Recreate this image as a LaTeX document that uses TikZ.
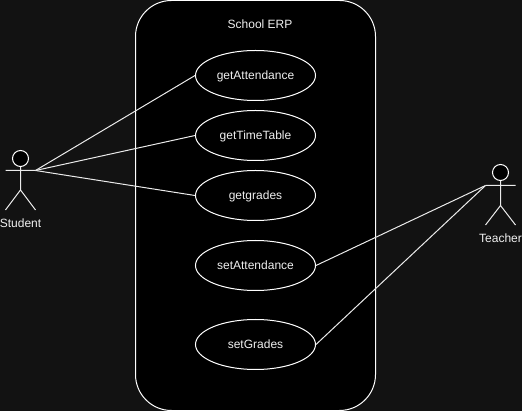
\documentclass[tikz,border=0pt]{standalone}
\usepackage{fontspec}
\setmainfont{Liberation Sans}
\usetikzlibrary{shapes.geometric}
\definecolor{bgdark}{HTML}{121212}
\definecolor{lbl}{HTML}{F0F0F0}
\tikzset{
  usecase/.style={ellipse,draw=white,fill=black,line width=1pt,minimum width=120pt,minimum height=50pt,inner sep=0pt,text=lbl,text height=10.4pt,text depth=2.4pt,font=\fontsize{12}{14}\selectfont},
  txt/.style={text=lbl,inner sep=0pt,text height=10.4pt,text depth=2.4pt,font=\fontsize{12}{14}\selectfont},
  lin/.style={draw=white!92!black,line width=1pt},
  head/.style={circle,draw=white,fill=black,line width=1pt,minimum size=16pt,inner sep=0pt}
}
\begin{document}
\begin{tikzpicture}[x=1pt,y=-1pt]
\useasboundingbox[fill=bgdark] (0,0) rectangle (522,411);
\draw[white,fill=black,line width=1pt,rounded corners=36pt] (135.5,0.5) rectangle (375.5,410.5);
\node[txt] (title) at (260,24.5) {School ERP};
\node[usecase] (a) at (255.5,75.5) {getAttendance};
\node[usecase] (b) at (255.5,135.5) {getTimeTable};
\node[usecase] (c) at (255.5,195.5) {getgrades};
\node[usecase] (d) at (255.5,265.5) {setAttendance};
\node[usecase] (e) at (255.5,344.5) {setGrades};
% Student
\node[head] (sh) at (20.5,158.5) {};
\coordinate (sb) at (20.5,190);
\coordinate (sl) at (5.5,170.5);
\coordinate (sr) at (35.5,170.5);
\coordinate (sfl) at (5.5,210);
\coordinate (sfr) at (35.5,210);
\draw[lin] (sh.south) -- (sb) (sl) -- (sr) (sfl) -- (sb) -- (sfr);
\node[txt] (sn) at (20.5,224) {Student};
% Teacher
\node[head] (th) at (500.5,172.5) {};
\coordinate (tb) at (500.5,205.5);
\coordinate (tl) at (485.5,185.5);
\coordinate (tr) at (515.5,185.5);
\coordinate (tfl) at (485.5,225);
\coordinate (tfr) at (515.5,225);
\draw[lin] (th.south) -- (tb) (tl) -- (tr) (tfl) -- (tb) -- (tfr);
\node[txt] (tn) at (500.5,239) {Teacher};
% connectors
\draw[lin] (sr) -- (a.west);
\draw[lin] (sr) -- (b.west);
\draw[lin] (sr) -- (c.west);
\draw[lin] (tl) -- (d.east);
\draw[lin] (tl) -- (e.east);
\end{tikzpicture}
\end{document}
